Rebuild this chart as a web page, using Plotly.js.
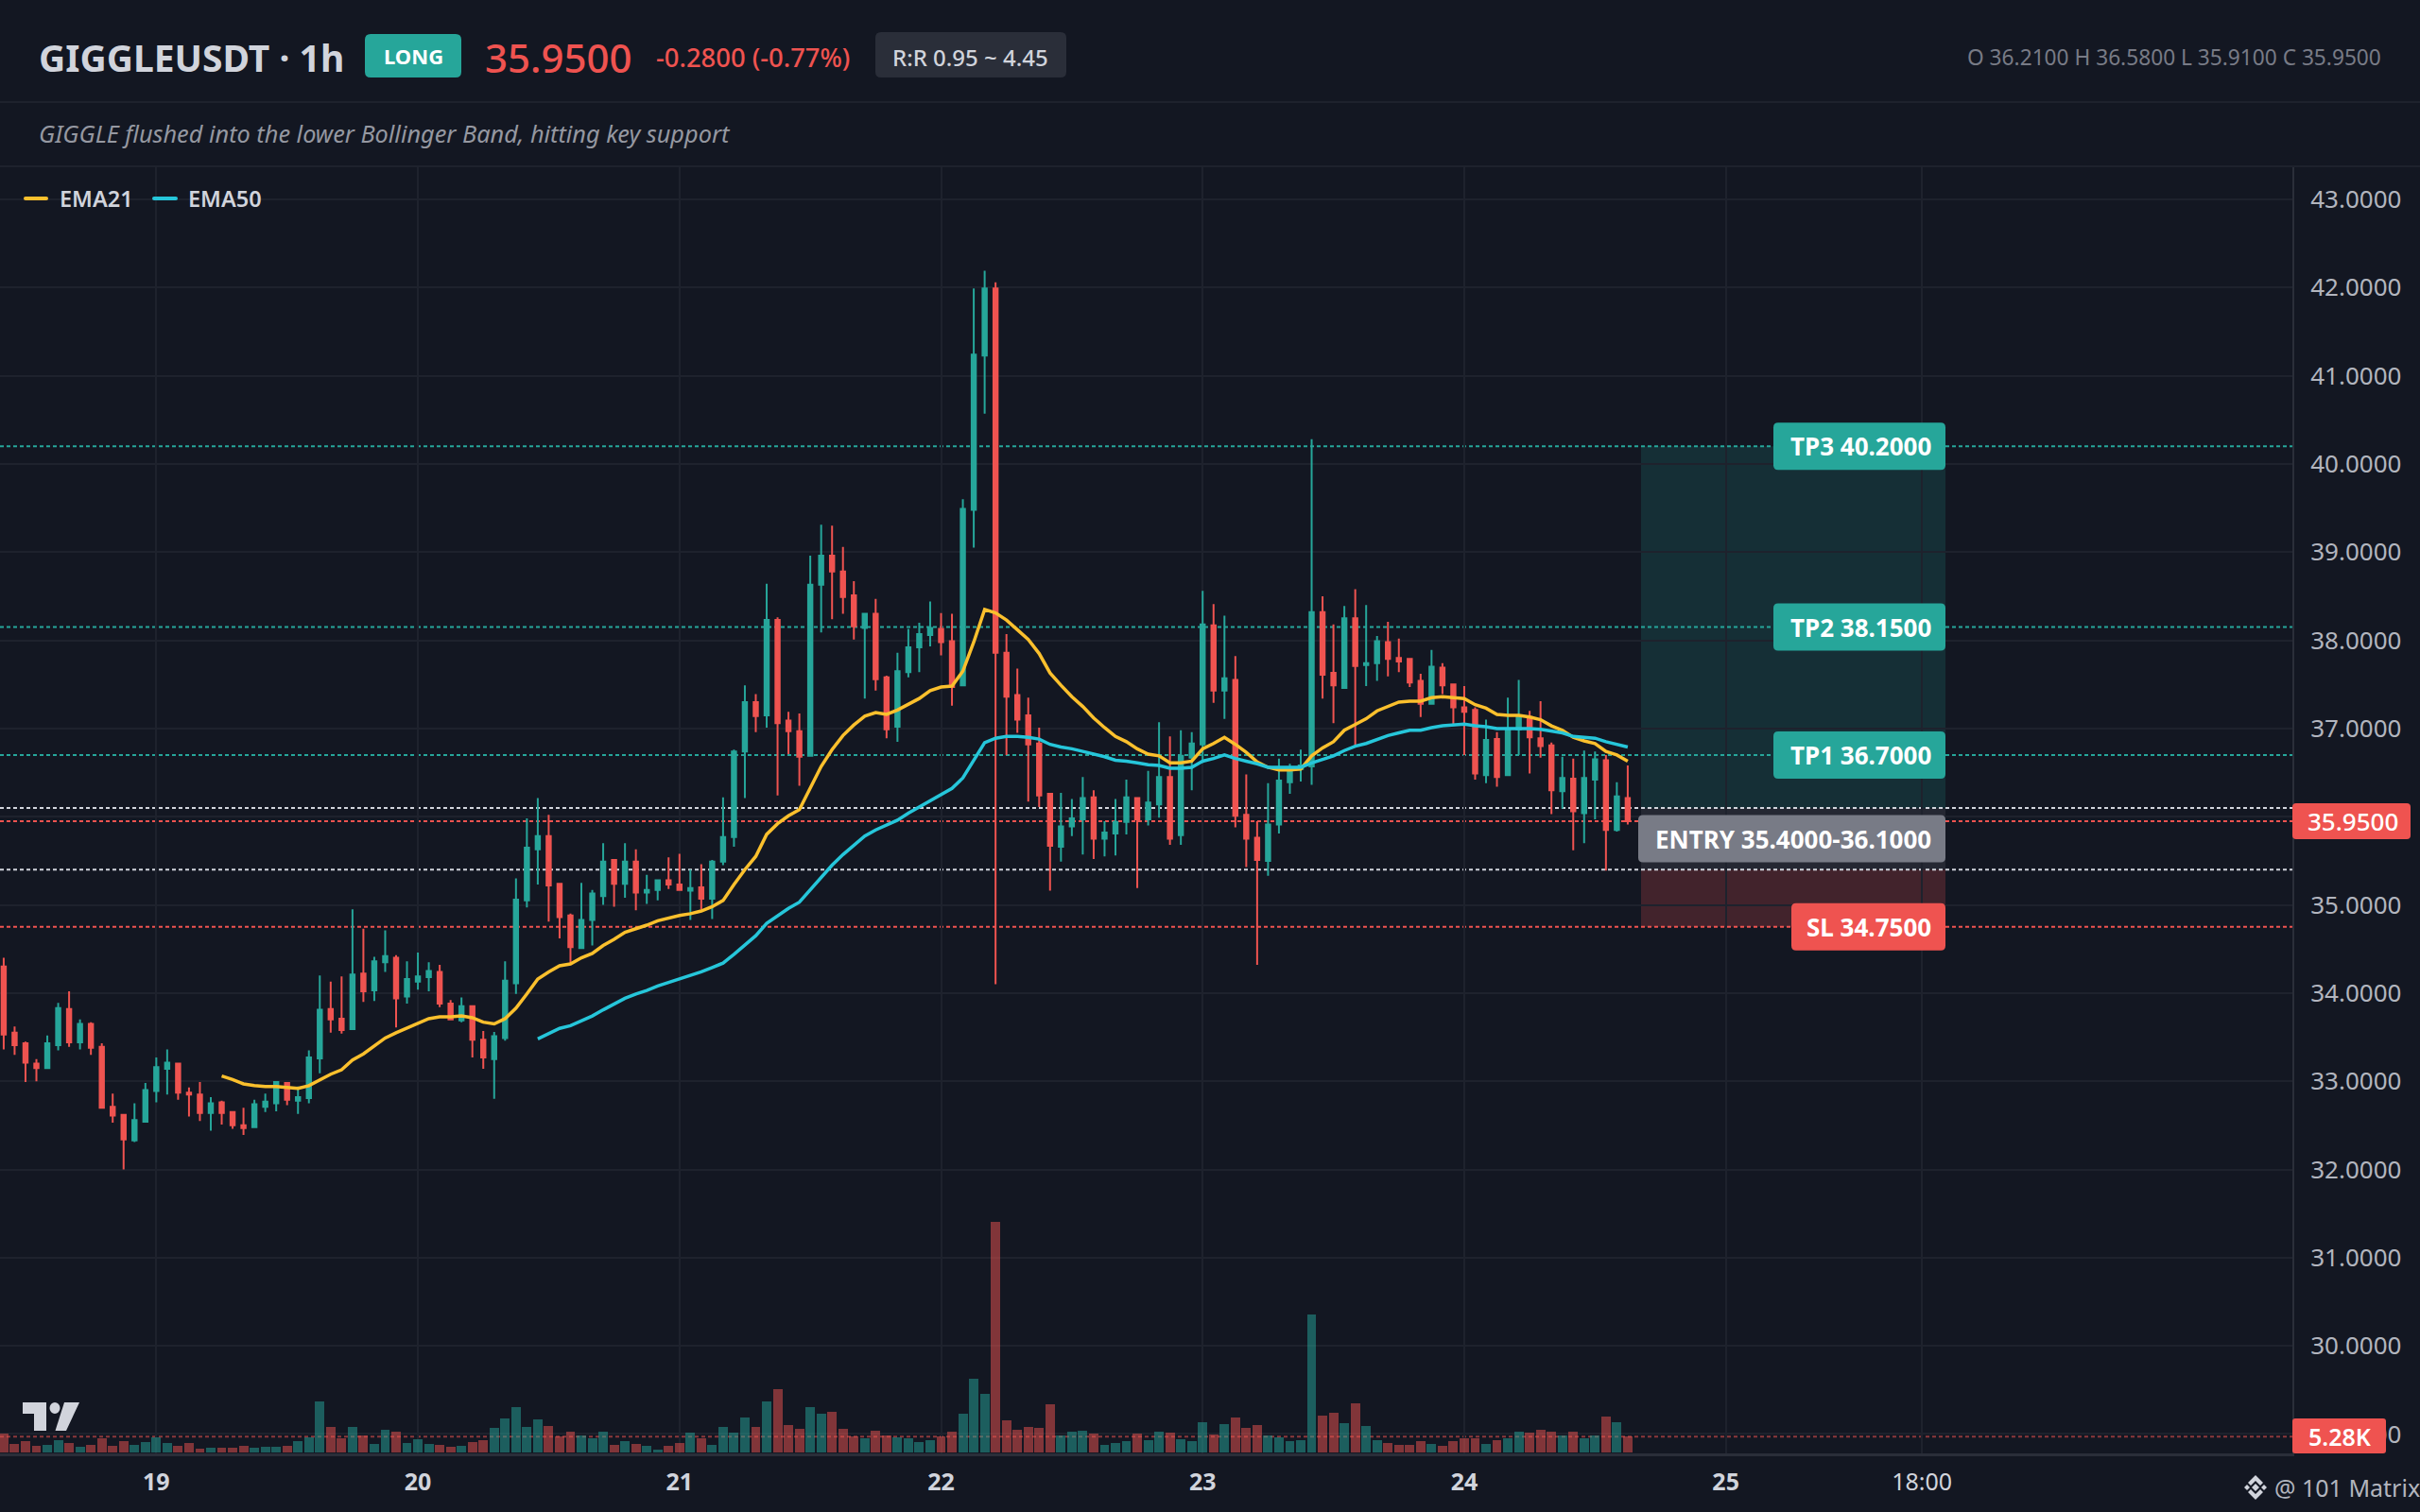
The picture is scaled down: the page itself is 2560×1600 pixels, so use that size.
<!DOCTYPE html>
<html>
<head>
<meta charset="utf-8">
<script src="https://cdn.plot.ly/plotly-3.0.1.min.js"></script>
<style>html,body{margin:0;padding:0;background:#131722}#chart{width:2560px;height:1600px}</style>
</head>
<body>
<div id="chart"></div>
<script>
// ---------- Data (1h candles, first candle 18th 10:00) ----------
const open = [
34.30,33.55,33.43,33.20,33.15,33.41,33.82,33.44,33.65,33.39,
32.71,32.62,32.33,32.54,32.89,33.14,33.20,32.87,32.85,32.64,
32.76,32.65,32.50,32.48,32.71,32.75,32.98,32.78,32.81,33.26,
33.82,33.71,33.59,34.22,34.03,34.35,34.40,33.96,34.13,34.18,
34.24,33.88,33.69,33.85,33.47,33.25,33.49,34.11,35.05,35.63,
35.78,35.24,34.88,34.51,34.83,35.10,35.51,35.24,35.49,35.14,
35.17,35.28,35.23,35.16,35.20,35.07,35.49,35.77,36.74,37.30,
37.15,38.23,37.09,36.97,36.69,38.63,38.96,38.78,38.51,38.14,
38.30,37.58,37.02,37.64,37.92,38.06,38.13,37.99,37.49,39.48,
41.23,41.99,37.86,37.38,37.15,36.83,36.26,35.66,35.89,35.97,
36.22,35.75,35.81,35.94,36.21,35.97,36.14,36.45,35.79,36.67,
36.82,38.17,37.43,37.55,36.02,35.76,35.50,35.91,36.39,36.54,
36.57,38.32,37.63,37.46,38.25,37.72,37.74,37.98,37.80,37.79,
37.54,37.28,37.69,37.50,37.24,37.21,36.47,36.88,36.47,36.99,
37.13,36.89,36.81,36.29,36.43,36.04,36.42,36.64,35.85,36.21];
const high = [
34.40,33.62,33.45,33.25,33.52,33.89,34.02,33.70,33.67,33.43,
32.86,32.62,32.75,32.98,33.27,33.36,33.20,32.93,32.99,32.82,
32.78,32.66,32.70,32.79,32.86,33.00,32.99,32.94,33.35,34.20,
34.13,34.19,34.95,34.73,34.41,34.71,34.43,34.36,34.46,34.35,
34.32,33.92,33.95,33.85,33.57,33.56,34.36,35.30,35.98,36.21,
36.02,35.25,34.90,35.25,35.17,35.70,35.51,35.70,35.63,35.34,
35.28,35.54,35.58,35.40,35.46,35.51,36.22,36.76,37.49,37.39,
38.64,38.26,37.19,37.17,38.96,39.31,39.30,39.06,38.67,38.31,
38.47,37.60,37.86,38.13,38.20,38.44,38.31,38.30,39.60,41.99,
42.19,42.06,38.07,37.68,37.35,37.01,36.26,36.27,36.20,36.45,
36.30,35.95,36.20,36.42,36.21,36.52,37.07,36.91,36.98,36.96,
38.56,38.41,38.28,37.82,36.48,35.95,36.38,36.66,36.60,36.76,
40.28,38.50,38.18,38.39,38.58,38.40,38.05,38.21,38.02,37.80,
37.62,37.89,37.74,37.50,37.48,37.24,37.10,36.96,37.35,37.55,
37.20,37.31,36.84,36.68,36.66,36.75,36.74,36.70,36.39,36.58];
const low = [
33.36,33.30,32.99,33.00,33.15,33.35,33.39,33.36,33.30,32.70,
32.53,32.00,32.31,32.54,32.76,32.85,32.79,32.60,32.55,32.44,
32.51,32.46,32.39,32.48,32.65,32.66,32.73,32.63,32.75,33.09,
33.55,33.54,33.58,33.90,33.91,34.24,33.61,33.88,34.04,34.02,
33.84,33.69,33.67,33.27,33.14,32.80,33.46,33.99,34.97,35.23,
34.81,34.62,34.34,34.51,34.54,35.00,34.98,35.08,34.94,35.01,
35.05,35.18,35.17,34.83,34.95,34.84,35.45,35.66,36.21,36.96,
37.01,36.24,36.71,36.35,36.68,38.09,38.24,38.30,38.01,37.34,
37.43,36.89,36.85,37.58,37.64,37.93,37.83,37.26,37.49,39.05,
40.57,34.10,36.70,36.95,36.17,36.11,35.16,35.49,35.78,35.57,
35.52,35.55,35.56,35.80,35.19,35.90,35.99,35.68,35.68,36.30,
36.61,37.29,37.11,35.88,35.43,34.32,35.33,35.81,36.26,36.40,
36.36,37.34,37.06,37.45,36.81,37.48,37.54,37.59,37.64,37.47,
37.13,37.28,37.39,37.05,36.70,36.42,36.38,36.34,36.46,36.70,
36.49,36.67,36.03,36.09,35.62,35.70,35.97,35.39,35.83,35.91];
const close = [
33.53,33.41,33.21,33.15,33.43,33.83,33.44,33.65,33.38,32.70,
32.61,32.34,32.56,32.90,33.16,33.21,32.87,32.85,32.64,32.75,
32.64,32.50,32.47,32.74,32.77,32.99,32.79,32.82,33.27,33.81,
33.70,33.58,34.21,34.02,34.36,34.42,33.94,34.16,34.19,34.25,
33.88,33.70,33.85,33.47,33.27,33.51,34.14,35.06,35.65,35.78,
35.22,34.86,34.52,34.83,35.13,35.49,35.24,35.49,35.14,35.17,
35.28,35.23,35.17,35.19,35.07,35.49,35.77,36.74,37.30,37.14,
38.23,37.06,36.97,36.68,38.63,38.96,38.78,38.49,38.16,38.30,
37.56,36.99,37.65,37.92,38.07,38.14,37.98,37.47,39.49,41.24,
41.99,37.86,37.36,37.10,36.82,36.24,35.67,35.89,35.98,36.21,
35.75,35.82,35.94,36.22,35.97,36.16,36.45,35.75,36.69,36.83,
38.18,37.43,37.57,36.01,35.75,35.51,35.91,36.41,36.53,36.58,
38.32,37.61,37.49,38.25,37.71,37.74,37.99,37.79,37.76,37.52,
37.28,37.70,37.49,37.24,37.19,36.49,36.87,36.45,36.99,37.13,
36.90,36.80,36.30,36.44,36.06,36.44,36.65,35.85,36.23,35.95];
const volumeK = [
6.31,2.90,3.83,2.28,2.59,4.14,3.21,1.97,2.59,4.76,
2.28,3.83,2.59,3.52,5.07,3.21,2.28,3.21,1.35,1.66,
1.66,1.66,2.28,1.66,1.97,1.97,2.28,3.83,5.07,16.87,
8.49,4.76,8.49,5.69,2.90,7.56,6.93,3.21,4.45,2.90,
2.59,1.97,2.28,3.52,4.14,8.18,11.28,15.01,8.49,10.97,
8.80,5.38,6.93,5.69,4.76,6.93,2.59,3.83,2.90,2.28,
1.04,2.28,3.21,6.62,4.76,2.59,8.49,6.62,11.59,8.49,
16.87,20.91,9.11,7.87,15.01,12.83,13.46,7.87,5.28,4.66,
7.14,5.59,4.97,4.66,3.42,4.04,5.28,6.83,12.73,24.22,
19.25,75.76,10.56,7.45,8.38,8.07,15.84,5.59,6.83,7.14,
6.21,2.48,3.11,3.73,6.21,4.04,6.83,6.52,4.35,3.73,
9.94,5.90,9.32,11.49,8.07,9.00,5.59,4.97,3.73,4.04,
45.33,12.11,13.04,9.63,16.15,8.69,4.04,3.11,2.48,2.48,
3.73,2.79,2.17,3.73,4.66,4.66,2.79,4.04,4.66,6.83,
6.52,7.45,6.83,5.59,6.83,4.66,5.59,11.80,9.94,5.28];
const ema21 = [ // starts at candle 20
33.06,33.02,32.97,32.95,32.94,32.94,32.93,32.92,32.95,33.02,
33.08,33.13,33.24,33.31,33.40,33.49,33.55,33.60,33.65,33.71,
33.73,33.73,33.74,33.72,33.67,33.65,33.71,33.83,33.99,34.16,
34.24,34.31,34.33,34.40,34.45,34.54,34.61,34.69,34.73,34.77,
34.82,34.85,34.88,34.90,34.93,34.98,35.05,35.23,35.40,35.55,
35.80,35.92,36.01,36.08,36.33,36.57,36.76,36.92,37.04,37.14,
37.18,37.16,37.21,37.27,37.34,37.43,37.47,37.48,37.65,37.98,
38.35,38.31,38.23,38.12,38.01,37.85,37.63,37.49,37.36,37.25,
37.12,37.01,36.91,36.85,36.77,36.71,36.69,36.61,36.61,36.63,
36.77,36.83,36.90,36.82,36.73,36.62,36.56,36.53,36.53,36.54,
36.69,36.78,36.85,36.98,37.05,37.11,37.20,37.25,37.30,37.31,
37.31,37.35,37.36,37.35,37.34,37.27,37.23,37.16,37.15,37.15,
37.13,37.10,37.03,36.98,36.90,36.86,36.83,36.74,36.70,36.63];
const ema50 = [ // starts at candle 49
33.48,
33.54,33.60,33.63,33.68,33.74,33.81,33.88,33.94,33.99,34.03,
34.08,34.12,34.16,34.20,34.24,34.29,34.34,34.44,34.55,34.65,
34.79,34.88,34.96,35.03,35.17,35.30,35.45,35.57,35.67,35.78,
35.85,35.90,35.96,36.04,36.11,36.19,36.26,36.32,36.44,36.64,
36.84,36.89,36.91,36.91,36.90,36.88,36.82,36.79,36.77,36.74,
36.71,36.68,36.64,36.63,36.61,36.59,36.58,36.55,36.55,36.56,
36.63,36.66,36.70,36.66,36.63,36.60,36.56,36.56,36.56,36.56,
36.61,36.65,36.69,36.75,36.80,36.83,36.88,36.92,36.95,36.98,
36.98,37.01,37.03,37.04,37.05,37.03,37.02,37.00,37.00,37.00,
37.00,36.99,36.97,36.95,36.91,36.90,36.89,36.85,36.82,36.79];
const priceTicks = [29,30,31,32,33,34,35,36,37,38,39,40,41,42,43];
const timeTickHours = [0,24,48,72,96,120,144,162];
const timeTickLabels = ['<b>19</b>','<b>20</b>','<b>21</b>','<b>22</b>','<b>23</b>','<b>24</b>','<b>25</b>','18:00'];
const tp1 = 36.70, tp2 = 38.15, tp3 = 40.20;
const entryHigh = 36.10, entryLow = 35.40, stopLoss = 34.75;
const lastPrice = 35.95, lastVolumeK = 5.28;

// ---------- Style ----------
const BG='#131722', GRID='#1e222d', AXIS='#2a2e39', TXT='#d1d4dc', AX_TXT='#b2b5be';
const GREEN='#26a69a', RED='#ef5350', GRAY='#787b86', YEL='#fbc02d', CYAN='#26c6da';
const FONT='"Noto Sans", "Open Sans", sans-serif';
const W=2560,H=1600,L=0,R=2425,T=177,B=1538;

const firstHour=-14;
const iso=h=>new Date(Date.UTC(2025,10,19)+h*3600000).toISOString().slice(0,19).replace('T',' ');
const times=open.map((_,i)=>iso(firstHour+i));
const px=x=>(x-L)/(R-L);
const py=y=>1-(y-T)/(B-T);

// rounded rectangle path; coordinates in whichever units xref/yref use
function rr(x0,x1,y0,y1,rx,ry){
  const sy=y1>y0?1:-1;
  return `M${x0+rx},${y0} L${x1-rx},${y0} Q${x1},${y0} ${x1},${y0+sy*ry} L${x1},${y1-sy*ry} Q${x1},${y1} ${x1-rx},${y1} L${x0+rx},${y1} Q${x0},${y1} ${x0},${y1-sy*ry} L${x0},${y0+sy*ry} Q${x0},${y0} ${x0+rx},${y0} Z`;
}
const pixBox=(x0,x1,y0,y1,r,fill)=>({type:'path',xref:'paper',yref:'paper',layer:'above',
  path:rr(px(x0),px(x1),py(y0),py(y1),r/(R-L),r/(B-T)),fillcolor:fill,line:{width:0}});
const poly=(pts,fill)=>({type:'path',xref:'paper',yref:'paper',layer:'above',
  path:'M'+pts.map(p=>px(p[0])+','+py(p[1])).join(' L')+' Z',fillcolor:fill,line:{width:0}});
const levelLine=(v,c,yref)=>({type:'line',xref:'paper',yref:yref||'y',x0:0,x1:1,y0:v,y1:v,layer:'below',
  line:{color:c,width:2,dash:'4px,3px'}});
const zone=(y0,y1,c)=>({type:'rect',xref:'paper',yref:'y',x0:px(1736),x1:px(2058),y0:y0,y1:y1,layer:'below',fillcolor:c,line:{width:0}});
const UNIT=93.33; // px per price unit, for label box heights
const lvlBox=(x0,v,fill)=>({type:'path',xref:'paper',yref:'y',layer:'above',
  path:rr(px(x0),px(2058),v+25/UNIT,v-25/UNIT,5/(R-L),5/UNIT),fillcolor:fill,line:{width:0}});

const shapes=[
  zone(entryHigh,tp3,'rgba(38,166,154,0.17)'),
  zone(entryLow,entryHigh,'rgba(120,123,134,0.18)'),
  zone(stopLoss,entryLow,'rgba(239,83,80,0.22)'),
  levelLine(tp3,GREEN),levelLine(tp2,GREEN),levelLine(tp1,GREEN),
  levelLine(entryHigh,TXT),levelLine(entryLow,TXT),
  levelLine(lastPrice,RED),levelLine(stopLoss,RED),
  levelLine(lastVolumeK,'rgba(239,83,80,0.55)','y2'),
  // header separators
  {type:'line',xref:'paper',yref:'paper',x0:0,x1:W/(R-L),y0:py(108),y1:py(108),line:{color:GRID,width:2}},
  {type:'line',xref:'paper',yref:'paper',x0:0,x1:W/(R-L),y0:py(176),y1:py(176),line:{color:GRID,width:2}},
  // header badges
  pixBox(386,488,36,82,6,GREEN),
  pixBox(926,1128,34,82,6,AXIS),
  // legend swatches
  pixBox(25,51,208,212,2,YEL),
  pixBox(161,188,208,212,2,CYAN),
  // level labels
  lvlBox(1876,tp3,GREEN),lvlBox(1876,tp2,GREEN),lvlBox(1876,tp1,GREEN),
  lvlBox(1733,(entryHigh+entryLow)/2,GRAY),
  lvlBox(1895,stopLoss,RED),
  // axis tags
  pixBox(2425,2550,850,888,4,RED),
  pixBox(2425,2524,1501,1538,3,RED),
  // TradingView mark
  poly([[24,1484],[49,1484],[49,1514],[36,1514],[36,1496],[24,1496]],TXT),
  {type:'circle',xref:'paper',yref:'paper',layer:'above',x0:px(52.5),x1:px(63.5),y0:py(1484),y1:py(1496),fillcolor:TXT,line:{width:0}},
  poly([[68,1484],[84,1484],[70,1514],[58.5,1514]],TXT),
  // exchange mark
  poly([[2386,1561],[2394,1569],[2391,1572],[2386,1567],[2381,1572],[2378,1569]],TXT),
  poly([[2386,1587],[2394,1579],[2391,1576],[2386,1581],[2381,1576],[2378,1579]],TXT),
  poly([[2386,1570],[2390,1574],[2386,1578],[2382,1574]],TXT),
  poly([[2377,1571],[2380,1574],[2377,1577],[2374,1574]],TXT),
  poly([[2395,1571],[2398,1574],[2395,1577],[2392,1574]],TXT)
];

const ann=(text,x,y,size,color,o)=>Object.assign({text:text,x:px(x),y:py(y),xref:'paper',yref:'paper',showarrow:false,
  xanchor:'left',yanchor:'middle',borderpad:0,font:{family:FONT,size:size,color:color}},o||{});
const annLvl=(text,v)=>({text:text,x:px(2044),y:v,xref:'paper',yref:'y',showarrow:false,xanchor:'right',yanchor:'middle',
  borderpad:0,font:{family:FONT,size:26,color:'#ffffff',weight:700}});

const annotations=[
  ann('GIGGLEUSDT · 1h',40,60,39,TXT,{font:{family:FONT,size:39,color:TXT,weight:700}}),
  ann('LONG',437,59,22,'#ffffff',{xanchor:'center',font:{family:FONT,size:22,color:'#ffffff',weight:700}}),
  ann('35.9500',512,60,42,RED,{font:{family:FONT,size:42,color:RED,weight:500}}),
  ann('-0.2800 (-0.77%)',693,60,27.4,RED,{font:{family:FONT,size:27.4,color:RED,weight:500}}),
  ann('R:R 0.95 ~ 4.45',1026,60,24,TXT,{xanchor:'center',font:{family:FONT,size:24,color:TXT,weight:500}}),
  ann('O 36.2100 H 36.5800 L 35.9100 C 35.9500',2520,60,22.7,GRAY,{xanchor:'right'}),
  ann('GIGGLE flushed into the lower Bollinger Band, hitting key support',40,141,25.3,'#9598a1',{font:{family:FONT,size:25.3,color:'#9598a1',style:'italic'}}),
  ann('EMA21',62,210,23.5,TXT,{font:{family:FONT,size:23.5,color:TXT,weight:600}}),
  ann('EMA50',198,210,23.5,TXT,{font:{family:FONT,size:23.5,color:TXT,weight:600}}),
  annLvl('TP3 40.2000',tp3),annLvl('TP2 38.1500',tp2),annLvl('TP1 36.7000',tp1),
  annLvl('ENTRY 35.4000-36.1000',(entryHigh+entryLow)/2),annLvl('SL 34.7500',stopLoss),
  ann('35.9500',2489,869,26,'#ffffff',{xanchor:'center',font:{family:FONT,size:26,color:'#ffffff',weight:500}}),
  ann('5.28K',2475,1520,25,'#ffffff',{xanchor:'center',font:{family:FONT,size:25,color:'#ffffff',weight:600}}),
  ann('@ 101 Matrix',2405,1574,25,AX_TXT,{})
];

const traces=[
  {type:'bar',x:times,y:volumeK,yaxis:'y2',width:0.86*3600000,hoverinfo:'skip',
   marker:{color:open.map((o,i)=>close[i]>=o?GREEN:RED),opacity:0.5,line:{width:0}},showlegend:false},
  {type:'candlestick',x:times,open:open,high:high,low:low,close:close,whiskerwidth:0,showlegend:false,
   increasing:{line:{color:GREEN,width:2},fillcolor:GREEN},
   decreasing:{line:{color:RED,width:2},fillcolor:RED}},
  {type:'scatter',mode:'lines',x:times.slice(20),y:ema21,line:{color:YEL,width:3.5},name:'EMA21',showlegend:false},
  {type:'scatter',mode:'lines',x:times.slice(49),y:ema50,line:{color:CYAN,width:3.5},name:'EMA50',showlegend:false}
];

const layout={
  width:W,height:H,paper_bgcolor:BG,plot_bgcolor:BG,showlegend:false,dragmode:false,
  margin:{l:L,r:W-R,t:T,b:H-B,pad:0},boxgap:0.45,bargap:0,
  font:{family:FONT,color:AX_TXT},
  xaxis:{type:'date',range:[iso(-14.34),iso(195.98)],rangeslider:{visible:false},
    tickmode:'array',tickvals:timeTickHours.map(iso),ticktext:timeTickLabels,
    tickfont:{family:FONT,size:25,color:TXT},ticks:'outside',ticklen:6,tickcolor:'rgba(0,0,0,0)',tickangle:0,
    showgrid:true,gridcolor:GRID,gridwidth:2,zeroline:false,showline:true,linecolor:AXIS,linewidth:3,fixedrange:true},
  yaxis:{side:'right',range:[28.78,43.364],tickmode:'array',tickvals:priceTicks,ticktext:priceTicks.map(v=>v.toFixed(4)),
    tickfont:{family:FONT,size:26,color:AX_TXT},ticks:'outside',ticklen:12,tickcolor:'rgba(0,0,0,0)',
    showgrid:true,gridcolor:GRID,gridwidth:2,zeroline:false,showline:true,linecolor:AXIS,linewidth:2,fixedrange:true},
  yaxis2:{overlaying:'y',side:'left',range:[-0.2,422.4],visible:false,showgrid:false,zeroline:false,fixedrange:true},
  shapes:shapes,annotations:annotations
};
Plotly.newPlot('chart',traces,layout,{displayModeBar:false,staticPlot:true});
</script>
</body>
</html>
